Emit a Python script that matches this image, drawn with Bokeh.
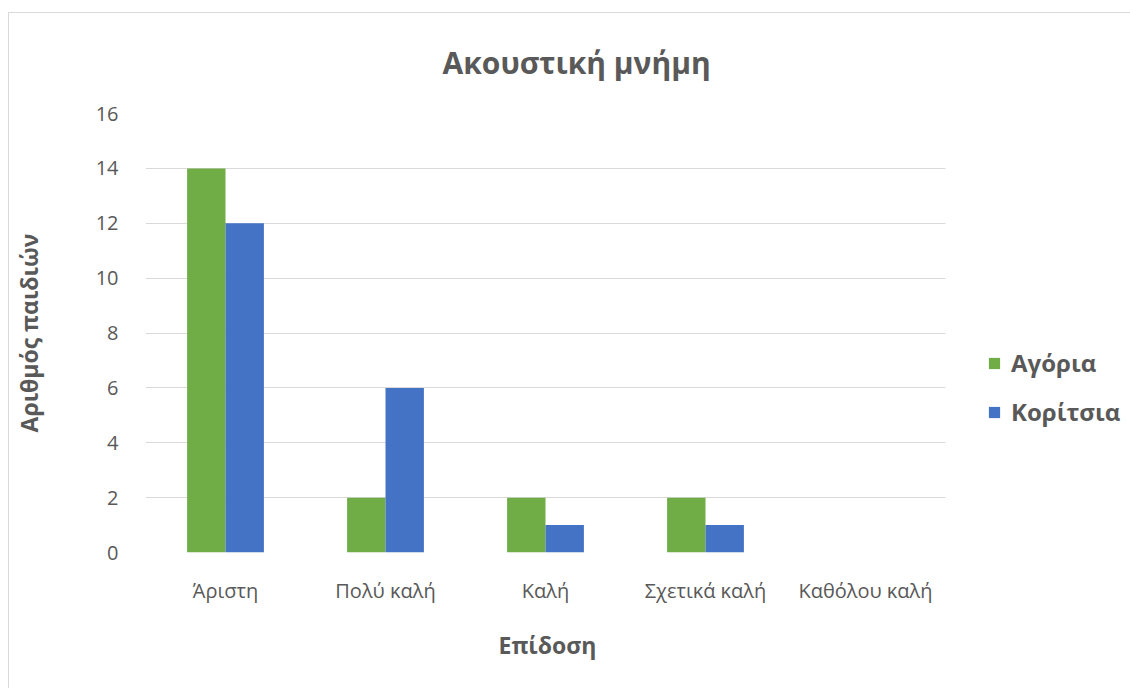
from bokeh.plotting import figure
from bokeh.models import ColumnDataSource, Range1d, Legend, LegendItem, Title, FixedTicker
from bokeh.transform import dodge
from bokeh.embed import file_html
from bokeh.resources import INLINE

categories = ["Άριστη", "Πολύ καλή", "Καλή", "Σχετικά καλή", "Καθόλου καλή"]
boys = [14, 2, 2, 2, 0]
girls = [12, 6, 1, 1, 0]
y_ticks = [0, 2, 4, 6, 8, 10, 12, 14, 16]

TXT = "#595959"
FONT = "Open Sans"

xpos = [i + 0.5 for i in range(len(categories))]
src = ColumnDataSource(dict(x=xpos, cat=categories, boys=boys, girls=girls))

n = len(categories)
p = figure(
    width=1122, height=676,
    x_range=Range1d(0, n + 1.15),
    y_range=Range1d(0, 16),
    output_backend="svg", toolbar_location=None,
    min_border_left=133, min_border_right=2,
    min_border_top=99, min_border_bottom=137,
)
p.margin = (12, 0, 0, 8)
p.styles = {"border-left": "1px solid #d9d9d9", "border-top": "1px solid #d9d9d9"}
p.outline_line_color = None
p.background_fill_color = "white"
p.border_fill_color = "white"

r1 = p.vbar(x=dodge("x", -0.12), top="boys", width=0.24,
            source=src, fill_color="#70AD47", line_color=None)
r2 = p.vbar(x=dodge("x", 0.12), top="girls", width=0.24,
            source=src, fill_color="#4472C4", line_color=None)

# title
t = Title(text="Ακουστική μνήμη", align="left", vertical_align="top",
          text_font=FONT, text_font_size="30px", text_font_style="bold",
          text_color=TXT, offset=297, standoff=57)
p.add_layout(t, "above")

# axes
p.yaxis.ticker = y_ticks
p.yaxis.axis_line_color = None
p.yaxis.major_tick_line_color = None
p.yaxis.minor_tick_line_color = None
p.yaxis.major_label_standoff = 21
p.yaxis.major_label_text_font = FONT
p.yaxis.major_label_text_font_size = "20px"
p.yaxis.major_label_text_color = TXT
p.yaxis.axis_label = "Αριθμός παιδιών"
p.yaxis.axis_label_text_font = FONT
p.yaxis.axis_label_text_font_size = "23px"
p.yaxis.axis_label_text_font_style = "bold"
p.yaxis.axis_label_text_color = TXT
p.yaxis.axis_label_standoff = 48

p.xaxis.ticker = FixedTicker(ticks=xpos)
p.xaxis.major_label_overrides = {x: c for x, c in zip(xpos, categories)}
p.xaxis.bounds = (0, n)
p.xaxis.axis_line_color = None
p.xaxis.major_tick_line_color = None
p.xaxis.minor_tick_line_color = None
p.xaxis.major_label_standoff = 18
p.xaxis.major_label_text_font = FONT
p.xaxis.major_label_text_font_size = "20px"
p.xaxis.major_label_text_color = TXT

xt = Title(text="Επίδοση", align="left", vertical_align="top",
           text_font=FONT, text_font_size="23px", text_font_style="bold",
           text_color=TXT, offset=353, standoff=44)
p.add_layout(xt, "below")

p.xgrid.grid_line_color = None
p.ygrid.grid_line_color = "#D9D9D9"
p.ygrid.grid_line_width = 1
p.ygrid.cross_bounds = (0, n)

legend = Legend(items=[LegendItem(label="Αγόρια", renderers=[r1]),
                       LegendItem(label="Κορίτσια", renderers=[r2])],
                location=(842, 124), orientation="vertical",
                label_text_font=FONT, label_text_font_size="24px",
                label_text_font_style="bold", label_text_color=TXT,
                glyph_width=14, glyph_height=14, spacing=16,
                label_standoff=10, padding=0, margin=0,
                border_line_color=None, background_fill_alpha=0)
p.add_layout(legend, "center")

open("out.html", "w").write(file_html(p, INLINE))
